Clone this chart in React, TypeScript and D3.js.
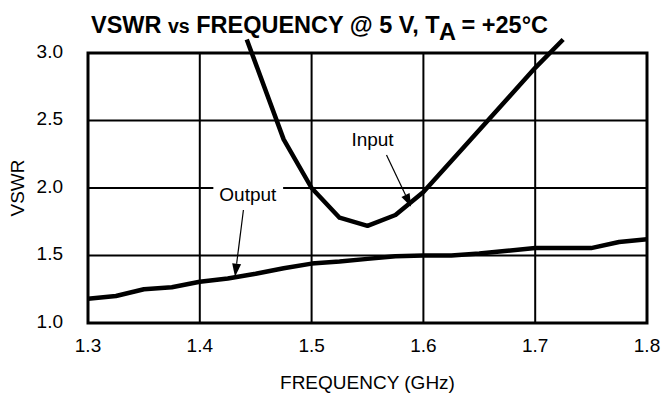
import { useEffect, useRef } from "react"
import * as d3 from "d3"

// frequency (GHz) / VSWR
const inputFreq = [1.442, 1.475, 1.5, 1.525, 1.55, 1.575, 1.6, 1.65, 1.7, 1.725]
const inputVswr = [3.1, 2.36, 2.0, 1.78, 1.72, 1.8, 1.97, 2.43, 2.89, 3.1]

const outputFreq = [1.3, 1.325, 1.35, 1.375, 1.4, 1.425, 1.45, 1.475, 1.5, 1.525, 1.55, 1.575, 1.6, 1.625, 1.65, 1.675, 1.7, 1.725, 1.75, 1.775, 1.8]
const outputVswr = [1.18, 1.2, 1.25, 1.265, 1.305, 1.33, 1.365, 1.405, 1.44, 1.455, 1.475, 1.495, 1.5, 1.5, 1.515, 1.535, 1.555, 1.555, 1.555, 1.6, 1.62]

const xTicks = [1.3, 1.4, 1.5, 1.6, 1.7, 1.8]
const yTicks = [1.0, 1.5, 2.0, 2.5, 3.0]

// annotations: [labelFreq, labelVswr, arrowFromFreq, arrowFromVswr, tipFreq, tipVswr]
const inputNote = [1.5545, 2.363, 1.567, 2.244, 1.589, 1.861]
const outputNote = [1.443, 1.956, 1.439, 1.837, 1.4315, 1.343]

const W = 662
const H = 403
const FONT = "'Liberation Sans', Arial, Helvetica, sans-serif"

export default function App() {
  const svgRef = useRef<SVGSVGElement>(null)

  useEffect(() => {
    if (!svgRef.current) return
    const svg = d3.select(svgRef.current)
    svg.selectAll("*").remove()

    const margin = { top: 53, right: 15, bottom: 80, left: 88 }
    const x = d3.scaleLinear().domain([1.3, 1.8]).range([margin.left, W - margin.right])
    const y = d3.scaleLinear().domain([1.0, 3.0]).range([H - margin.bottom, margin.top])

    const g = svg.append("g")

    // grid
    g.selectAll(".vgrid")
      .data(xTicks.slice(1, -1))
      .enter().append("line")
      .attr("x1", d => x(d)).attr("x2", d => x(d))
      .attr("y1", y(1.0)).attr("y2", y(3.0))
      .attr("stroke", "#000").attr("stroke-width", 2)

    g.selectAll(".hgrid")
      .data(yTicks.slice(1, -1))
      .enter().append("line")
      .attr("x1", x(1.3)).attr("x2", x(1.8))
      .attr("y1", d => y(d)).attr("y2", d => y(d))
      .attr("stroke", "#000").attr("stroke-width", 2)

    g.append("rect")
      .attr("x", x(1.3)).attr("y", y(3.0))
      .attr("width", x(1.8) - x(1.3)).attr("height", y(1.0) - y(3.0))
      .attr("fill", "none").attr("stroke", "#000").attr("stroke-width", 3)

    // tick labels
    g.selectAll(".xt")
      .data(xTicks)
      .enter().append("text")
      .attr("x", d => x(d)).attr("y", y(1.0) + 29)
      .attr("text-anchor", "middle")
      .style("font-family", FONT).style("font-size", "19px")
      .text(d => d.toFixed(1))

    g.selectAll(".yt")
      .data(yTicks)
      .enter().append("text")
      .attr("x", 63).attr("y", d => y(d) - 2)
      .attr("dy", "0.35em")
      .attr("text-anchor", "end")
      .style("font-family", FONT).style("font-size", "19px")
      .text(d => d.toFixed(1))

    g.append("text")
      .attr("x", (x(1.3) + x(1.8)) / 2).attr("y", 389)
      .attr("text-anchor", "middle")
      .style("font-family", FONT).style("font-size", "19px")
      .text("FREQUENCY (GHz)")

    g.append("text")
      .attr("transform", `translate(24,${(y(1.0) + y(3.0)) / 2}) rotate(-90)`)
      .attr("text-anchor", "middle")
      .style("font-family", FONT).style("font-size", "19px")
      .text("VSWR")

    // title
    const title = g.append("text")
      .attr("x", 91).attr("y", 33)
      .attr("textLength", 457)
      .attr("lengthAdjust", "spacingAndGlyphs")
      .style("font-family", FONT).style("font-size", "24px").style("font-weight", "bold")
    title.append("tspan").text("VSWR ")
    title.append("tspan").style("font-size", "20px").text("vs")
    title.append("tspan").text(" FREQUENCY @ 5 V, T")
    title.append("tspan").attr("dx", 1).attr("dy", 7).text("A")
    title.append("tspan").attr("dy", -7).text(" = +25°C")

    // curves
    const path = d3.line()
    const inputPts = inputFreq.map((f, i) => [x(f), y(inputVswr[i])] as [number, number])
    const outputPts = outputFreq.map((f, i) => [x(f), y(outputVswr[i])] as [number, number])

    g.append("path")
      .attr("d", path(outputPts))
      .attr("fill", "none").attr("stroke", "#000").attr("stroke-width", 4.5)
      .attr("stroke-linejoin", "round")

    g.append("path")
      .attr("d", path(inputPts))
      .attr("fill", "none").attr("stroke", "#000").attr("stroke-width", 4.5)
      .attr("stroke-linejoin", "round")

    // annotations
    const annotate = (note: number[], label: string) => {
      const [lf, lv, af, av, tf, tv] = note
      const t = g.append("text")
        .attr("x", x(lf)).attr("y", y(lv))
        .attr("dy", "0.35em")
        .attr("text-anchor", "middle")
        .style("font-family", FONT).style("font-size", "19px")
        .text(label)
      const bb = (t.node() as SVGTextElement).getBBox()
      g.insert("rect", () => t.node())
        .attr("x", bb.x - 6).attr("y", bb.y)
        .attr("width", bb.width + 12).attr("height", bb.height)
        .attr("fill", "#fff")

      const x0 = x(af), y0 = y(av), x1 = x(tf), y1 = y(tv)
      const ang = Math.atan2(y1 - y0, x1 - x0)
      const len = 13, half = 4.5
      const bx = x1 - len * Math.cos(ang), by = y1 - len * Math.sin(ang)
      g.append("line")
        .attr("x1", x0).attr("y1", y0).attr("x2", bx).attr("y2", by)
        .attr("stroke", "#000").attr("stroke-width", 1.2)
      g.append("path")
        .attr("d", `M${x1},${y1}L${bx + half * Math.sin(ang)},${by - half * Math.cos(ang)}L${bx - half * Math.sin(ang)},${by + half * Math.cos(ang)}Z`)
        .attr("fill", "#000")
    }
    annotate(inputNote, "Input")
    annotate(outputNote, "Output")
  }, [])

  return (
    <svg
      ref={svgRef}
      width={W}
      height={H}
      style={{ position: "absolute", left: 0, top: 0, background: "#fff" }}
    />
  )
}
